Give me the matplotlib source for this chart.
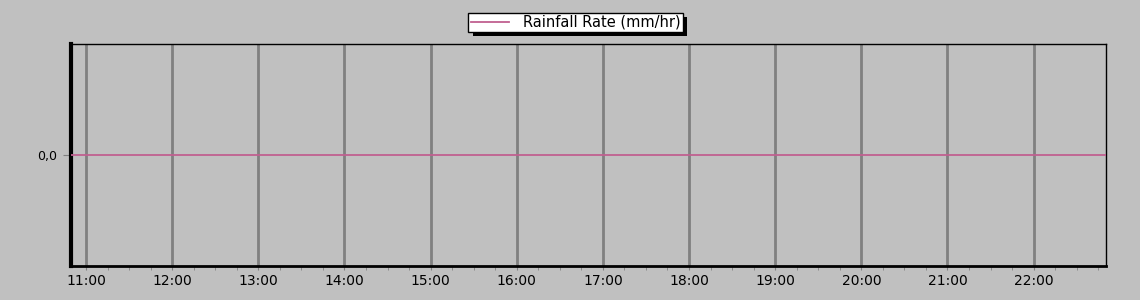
import matplotlib.pyplot as plt
import matplotlib.patheffects as pe
from matplotlib.ticker import FixedLocator, FuncFormatter, MultipleLocator

# --- data: hours of day (decimal) and rainfall rate
hours = [10.83, 12.0, 14.0, 16.0, 18.0, 20.0, 22.0, 22.84]
rain_rate = [0.0, 0.0, 0.0, 0.0, 0.0, 0.0, 0.0, 0.0]
tick_hours = [11, 12, 13, 14, 15, 16, 17, 18, 19, 20, 21, 22]

bg = '#c0c0c0'
pink = '#c06090'

fig = plt.figure(figsize=(11.4, 3.0), dpi=100, facecolor=bg)
ax = fig.add_axes([71/1140, 34/300, 1035/1140, 222/300], facecolor=bg)

ax.set_xlim(10.826, 22.84)
ax.set_ylim(-1, 1)

# hourly grid lines
for h in tick_hours:
    ax.axvline(h, color='#808080', lw=2.0, zorder=1)

ax.plot(hours, rain_rate, color=pink, lw=1.3, zorder=3, label='Rainfall Rate (mm/hr)')

ax.xaxis.set_major_locator(FixedLocator(tick_hours))
ax.xaxis.set_minor_locator(MultipleLocator(0.25))
ax.xaxis.set_major_formatter(FuncFormatter(lambda v, p: '%d:00' % round(v)))
ax.set_yticks([0])
ax.set_yticklabels(['0,0'])

ax.tick_params(axis='x', which='both', length=3, color='#808080', labelsize=10, pad=3)
ax.tick_params(axis='y', length=6, color='#808080', labelsize=9, pad=4)

for s in ['top', 'right']:
    ax.spines[s].set_linewidth(1)
ax.spines['left'].set_linewidth(3)
ax.spines['bottom'].set_linewidth(2)

leg = fig.legend(loc='upper center', bbox_to_anchor=(0.505, 0.958), fontsize=10.5,
                 frameon=True, fancybox=False, shadow=False, handlelength=2.6,
                 borderpad=0.15, borderaxespad=0, handletextpad=1.0)
frame = leg.get_frame()
frame.set_facecolor('white')
frame.set_edgecolor('black')
frame.set_linewidth(1)
frame.set_alpha(1)
frame.set_path_effects([pe.SimplePatchShadow(offset=(3, -3), shadow_rgbFace='black', alpha=1), pe.Normal()])

plt.savefig('out.png', dpi=100, facecolor=bg)
